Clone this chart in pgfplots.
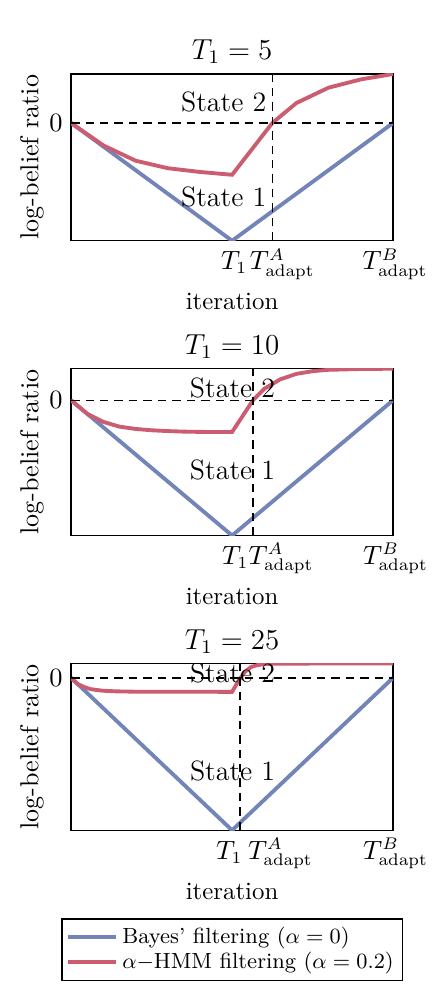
\documentclass[border=0pt]{standalone}
\usepackage{pgfplots}
\pgfplotsset{compat=1.18}
\definecolor{bayesblue}{rgb}{0.45,0.52,0.72}
\definecolor{hmmred}{rgb}{0.80,0.36,0.44}
% tick label whose left edge sits #1 from the tick
\newcommand{\tl}[2]{\makebox[0pt][l]{\hspace*{#1}#2}}
\newcommand{\TA}{$T^A_{\mathrm{adapt}}$}
\newcommand{\TB}{$T^B_{\mathrm{adapt}}$}
\tikzset{statelab/.style={anchor=base, font=\fontsize{11.6}{14}\selectfont}}
\pgfplotsset{
  beliefpanel/.style={
    scale only axis,
    width=133.6pt, height=69.2pt,
    xmin=0,
    ytick={0},
    major tick length=0pt,
    axis line style={line width=0.5pt},
    tick label style={font=\fontsize{10.5}{12}\selectfont},
    xticklabel style={anchor=base, yshift=-12pt},
    title style={at={(axis description cs:0.5,1)}, anchor=base, yshift=0pt,
      font=\fontsize{11.5}{14}\selectfont},
    xlabel={iteration},
    xlabel style={at={(axis description cs:0.5,0)}, anchor=base, yshift=-28.6pt,
      font=\fontsize{10.3}{12}\selectfont},
    ylabel={log-belief ratio},
    ylabel style={at={(axis description cs:0,0.5)}, anchor=center,
      yshift=16.3pt, font=\fontsize{10.8}{12}\selectfont},
  },
  bayes/.style={bayesblue, line width=1.6pt},
  hmm/.style={hmmred, line width=1.6pt},
  guide/.style={black, dash pattern=on 3.5pt off 2.5pt, line width=0.6pt},
}
\begin{document}
\begin{tikzpicture}
% T1 = 5
\begin{axis}[beliefpanel, at={(0,0)}, anchor=north west,
    title={$T_1=5$}, xmax=10, ymin=-5, ymax=2.08,
    xtick={5,6.25,10},
    xticklabels={\tl{-4.6pt}{$T_1$},\tl{-9.3pt}{\TA},\tl{-12.6pt}{\TB}}]
\addplot[bayes] coordinates {(0,0) (5,-5) (10,0)};
\addplot[hmm] coordinates {
  (0,0) (1,-0.95) (2,-1.6) (3,-1.92) (4,-2.08) (5,-2.2)
  (6.25,0) (7,0.85) (8,1.5) (9,1.85) (10,2.08)};
\addplot[guide] coordinates {(0,0) (10,0)};
\addplot[guide] coordinates {(6.25,-5) (6.25,2.08)};
\node[statelab] at (axis cs:4.74,0.48) {State 2};
\node[statelab] at (axis cs:4.74,-3.55) {State 1};
\end{axis}
% T1 = 10
\begin{axis}[beliefpanel, at={(0,-122.3pt)}, anchor=north west,
    title={$T_1=10$}, xmax=20, ymin=-10, ymax=2.33,
    xtick={10,11.3,20},
    xticklabels={\tl{-4.1pt}{$T_1$},\tl{-1.8pt}{\TA},\tl{-12.4pt}{\TB}}]
\addplot[bayes] coordinates {(0,0) (10,-10) (20,0)};
\addplot[hmm] coordinates {
  (0,0) (1,-1.0) (2,-1.6) (3,-1.95) (4,-2.12) (5,-2.22) (6,-2.28)
  (7,-2.32) (8,-2.34) (9,-2.35) (10,-2.35)
  (11.3,0) (12,0.85) (13,1.55) (14,1.95) (15,2.15) (16,2.25)
  (18,2.31) (20,2.33)};
\addplot[guide] coordinates {(0,0) (20,0)};
\addplot[guide] coordinates {(11.3,-10) (11.3,2.33)};
\node[statelab] at (axis cs:10.03,0.24) {State 2};
\node[statelab] at (axis cs:10.03,-5.88) {State 1};
\end{axis}
% T1 = 25
\begin{axis}[beliefpanel, at={(0,-244.6pt)}, anchor=north west,
    title={$T_1=25$}, xmax=50, ymin=-25, ymax=2.35,
    xtick={25,26.2,50},
    xticklabels={\tl{-6.6pt}{$T_1$},\tl{3.4pt}{\TA},\tl{-12.4pt}{\TB}},
    legend style={at={(0.5,-0.528)}, anchor=north, draw=black, line width=0.5pt,
      font=\fontsize{9.1}{11}\selectfont, row sep=-2pt, inner sep=1.5pt},
    legend cell align=left,
    legend image code/.code={\draw[#1] (0cm,0cm) -- (0.7cm,0cm);}]
\addplot[bayes] coordinates {(0,0) (25,-25) (50,0)};
\addlegendentry{Bayes' filtering ($\alpha=0$)}
\addplot[hmm] coordinates {
  (0,0) (1,-1.0) (2,-1.5) (3,-1.85) (4,-2.0) (5,-2.12) (7,-2.22)
  (10,-2.28) (25,-2.3)
  (26,-0.5) (27,1.0) (28,1.8) (29,2.1) (30,2.25) (32,2.33) (50,2.35)};
\addlegendentry{$\alpha$$-$HMM filtering ($\alpha=0.2$)}
\addplot[guide, forget plot] coordinates {(0,0) (50,0)};
\addplot[guide, forget plot] coordinates {(26.2,-25) (26.2,2.35)};
\node[statelab] at (axis cs:25.08,-0.82) {State 2};
\node[statelab] at (axis cs:25.08,-16.85) {State 1};
\end{axis}
\pgfresetboundingbox
\path[use as bounding box] (-29.5pt,30.7pt) rectangle (151.9pt,-380.5pt);
\end{tikzpicture}
\end{document}
